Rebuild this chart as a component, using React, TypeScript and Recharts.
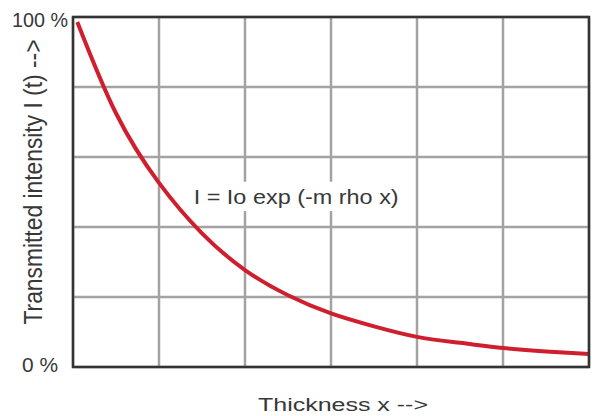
import {
  LineChart,
  Line,
  XAxis,
  YAxis,
  CartesianGrid,
  ReferenceArea,
  ReferenceLine,
} from "recharts";

// values (thickness in grid units, intensity in %)
const thickness = [0.05, 0.5, 1, 1.5, 2, 2.5, 3, 3.5, 4, 4.5, 5, 5.5, 6];
const intensity = [98.6, 72.5, 52.6, 38.2, 27.7, 20.5, 15.3, 11.6, 8.6, 6.9, 5.4, 4.4, 3.7];

const xTicks = [0, 1, 2, 3, 4, 5, 6];
const yTicks = [0, 20, 40, 60, 80, 100];
const yTickLabels: Record<number, string> = { 0: "0 %", 100: "100 %" };

const formula = "I = Io  exp (-m rho x)";
const xTitle = "Thickness x  -->";
const yTitle = "Transmitted intensity I (t)  -->";

const FONT = "'Liberation Sans', Arial, sans-serif";
const INK = "#383838";
const GRID = "#a3a3a3";

const data = thickness.map((x, i) => ({ x, intensity: intensity[i] }));

function YTick(props: any) {
  const { x, y, payload } = props;
  const text = yTickLabels[payload.value];
  if (!text) return null;
  const isTop = payload.value === 100;
  return (
    <text
      x={x - (isTop ? 5 : 15)}
      y={y + (isTop ? 2 : -3)}
      textAnchor="end"
      dominantBaseline="central"
      fontFamily={FONT}
      fontSize={21}
      fill={INK}
      textLength={isTop ? 56 : 36}
      lengthAdjust="spacingAndGlyphs"
    >
      {text}
    </text>
  );
}

function XTitle(props: any) {
  const vb = props.viewBox;
  const cx = vb.x + vb.width / 2 + 12;
  return (
    <text
      x={cx}
      y={vb.y + 38}
      textAnchor="middle"
      dominantBaseline="central"
      fontFamily={FONT}
      fontSize={18}
      fill={INK}
      textLength={170}
      lengthAdjust="spacingAndGlyphs"
    >
      {xTitle}
    </text>
  );
}

function YTitle(props: any) {
  const vb = props.viewBox;
  const cx = 33;
  const cy = vb.y + vb.height / 2 - 10;
  return (
    <text
      x={cx}
      y={cy}
      transform={`rotate(-90, ${cx}, ${cy})`}
      textAnchor="middle"
      dominantBaseline="central"
      fontFamily={FONT}
      fontSize={25}
      fill={INK}
      textLength={285}
      lengthAdjust="spacingAndGlyphs"
    >
      {yTitle}
    </text>
  );
}

function FormulaText(props: any) {
  const vb = props.viewBox;
  return (
    <text
      x={vb.x + vb.width / 2}
      y={vb.y + vb.height / 2}
      textAnchor="middle"
      dominantBaseline="central"
      fontFamily={FONT}
      fontSize={21}
      fill={INK}
      textLength={205}
      lengthAdjust="spacingAndGlyphs"
    >
      {formula}
    </text>
  );
}

export default function App() {
  return (
    <div style={{ position: "absolute", left: 0, top: 0, background: "#fff" }}>
      <LineChart
        width={592}
        height={416}
        data={data}
        margin={{ top: 17, right: 3, bottom: 0, left: 0 }}
      >
        <CartesianGrid stroke={GRID} strokeWidth={2.5} vertical={false} />
        {xTicks.map((t) => (
          <ReferenceLine key={t} x={t} stroke={GRID} strokeWidth={2.5} zIndex={-50} />
        ))}
        <XAxis
          dataKey="x"
          type="number"
          domain={[0, 6]}
          ticks={xTicks}
          tick={false}
          axisLine={false}
          tickLine={false}
          height={49}
          label={{ content: XTitle }}
        />
        <YAxis
          type="number"
          domain={[0, 100]}
          ticks={yTicks}
          tick={YTick}
          axisLine={false}
          tickLine={false}
          tickSize={0}
          tickMargin={0}
          width={73}
          label={{ content: YTitle }}
        />
        <ReferenceArea
          x1={1.36}
          x2={3.83}
          y1={44.6}
          y2={52.9}
          fill="#fff"
          fillOpacity={1}
          stroke="none"
          label={FormulaText}
          zIndex={500}
        />
        <ReferenceArea
          x1={0}
          x2={6}
          y1={0}
          y2={100}
          fill="none"
          stroke="#333"
          strokeWidth={2.5}
          zIndex={600}
        />
        <Line
          dataKey="intensity"
          type="natural"
          stroke="#cf1f2e"
          strokeWidth={4}
          dot={false}
          isAnimationActive={false}
        />
      </LineChart>
    </div>
  );
}
